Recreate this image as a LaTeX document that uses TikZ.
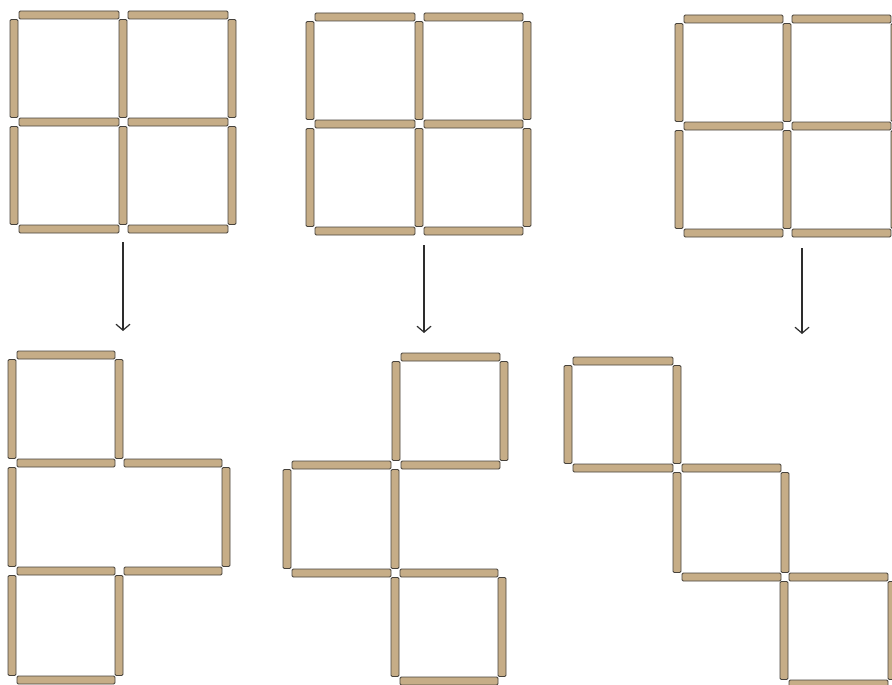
\documentclass[tikz,border=0pt]{standalone}
\usetikzlibrary{arrows.meta}
\definecolor{stickfill}{RGB}{198,173,135}
\definecolor{stickedge}{RGB}{70,66,60}
\definecolor{arrowcol}{RGB}{45,45,45}
\tikzset{
  stick/.style={fill=stickfill,draw=stickedge,line width=0.9pt,rounded corners=1.2pt},
  arrowline/.style={draw=arrowcol,line width=1.3pt,-{Straight Barb[length=6pt,width=14pt,line width=1.2pt]}}
}
% horizontal stick between lattice x1..x2 at height y
\newcommand\hst[3]{\path[stick] ({#1+5},{#3-4}) rectangle ({#2-4},{#3+4});}
% vertical stick at x between lattice y1..y2
\newcommand\vst[3]{\path[stick] ({#1-4},{#2+4.5}) rectangle ({#1+4},{#3-4.5});}
% 2x2 grid of squares
\newcommand\fourgrid[6]{%
  \hst{#1}{#2}{#4}\hst{#2}{#3}{#4}%
  \hst{#1}{#2}{#5}\hst{#2}{#3}{#5}%
  \hst{#1}{#2}{#6}\hst{#2}{#3}{#6}%
  \vst{#1}{#4}{#5}\vst{#2}{#4}{#5}\vst{#3}{#4}{#5}%
  \vst{#1}{#5}{#6}\vst{#2}{#5}{#6}\vst{#3}{#5}{#6}}
% one square
\newcommand\sq[4]{\hst{#1}{#2}{#3}\hst{#1}{#2}{#4}\vst{#1}{#3}{#4}\vst{#2}{#3}{#4}}
\begin{document}
\begin{tikzpicture}[x=1pt,y=-1pt]
\useasboundingbox (0,0) rectangle (892,685);
\clip (0,0) rectangle (892,685);
% top row: three 2x2 grids
\fourgrid{14}{123}{232}{15}{122}{229}
\fourgrid{310}{419}{527}{17}{124}{231}
\fourgrid{679}{787}{895}{19}{126}{233}
% arrows
\coordinate (a1s) at (123,242); \coordinate (a1e) at (123,331);
\coordinate (a2s) at (424,245); \coordinate (a2e) at (424,333);
\coordinate (a3s) at (802,248); \coordinate (a3e) at (802,334);
\draw[arrowline] (a1s) -- (a1e);
\draw[arrowline] (a2s) -- (a2e);
\draw[arrowline] (a3s) -- (a3e);
% bottom 1
\sq{12}{119}{355}{463}
\hst{119}{226}{463}
\vst{12}{463}{571}\vst{226}{463}{571}
\hst{119}{226}{571}
\sq{12}{119}{571}{680}
% bottom 2
\sq{396}{504}{357}{465}
\sq{287}{395}{465}{573}
\sq{395}{502}{573}{681}
% bottom 3
\sq{568}{677}{361}{468}
\sq{677}{785}{468}{577}
\sq{784}{892}{577}{684}
\end{tikzpicture}
\end{document}
